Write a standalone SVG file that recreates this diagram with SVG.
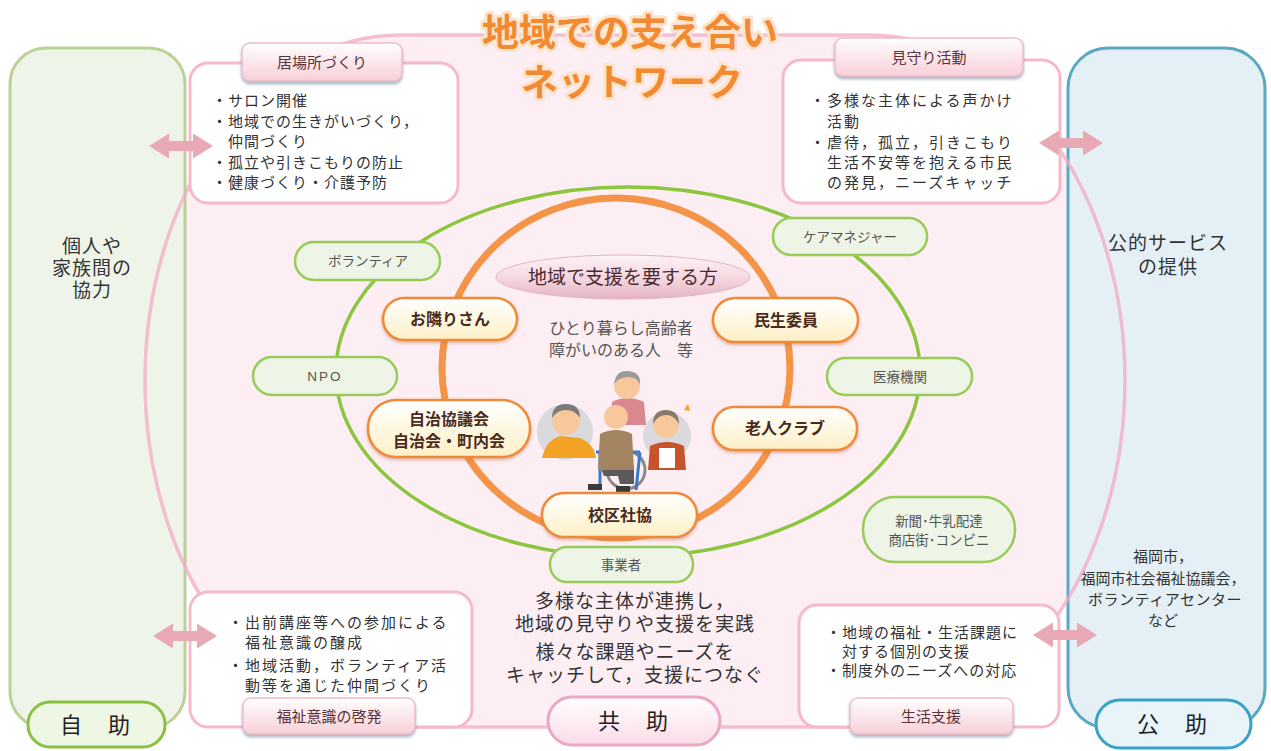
<svg xmlns="http://www.w3.org/2000/svg" width="1271" height="751" viewBox="0 0 1271 751">
  <defs>
    <style>
      text { font-family: "Liberation Sans", "Noto Sans CJK JP", sans-serif; }
      .body { font-size: 15px; fill: #333; letter-spacing: 1px; }
      .body2 { font-size: 15px; fill: #333; letter-spacing: 2px; }
      .panel-txt { font-size: 19px; fill: #333; text-anchor: middle; letter-spacing: 1px; }
      .mid { font-size: 19px; fill: #333; text-anchor: middle; letter-spacing: 1px; }
      .tab { fill: url(#tabGrad); stroke: #efbcc8; stroke-width: 1.5; filter: url(#shadow); }
      .tab-txt { font-size: 15px; fill: #5a3238; text-anchor: middle; }
      .box { fill: #fff; stroke: #f5b9ca; stroke-width: 3; }
      .opill { fill: url(#orangeGrad); stroke: #f08a3a; stroke-width: 2.5; filter: url(#shadow2); }
      .opill-txt { font-size: 16px; font-weight: bold; fill: #4a2a1a; text-anchor: middle; }
      .gpill { fill: #eef5e6; stroke: #98cb58; stroke-width: 2.5; }
      .gpill-txt { font-size: 13.5px; fill: #555; text-anchor: middle; }
      .arrow { fill: #e8a9b4; }
      .help-txt { font-size: 22px; fill: #222; text-anchor: middle; letter-spacing: 2px; }
    </style>
    <linearGradient id="tabGrad" x1="0" y1="0" x2="0" y2="1">
      <stop offset="0" stop-color="#ffffff"/>
      <stop offset="1" stop-color="#f8cfd9"/>
    </linearGradient>
    <linearGradient id="orangeGrad" x1="0" y1="0" x2="0" y2="1">
      <stop offset="0" stop-color="#ffffff"/>
      <stop offset="1" stop-color="#fdf0c6"/>
    </linearGradient>
    <linearGradient id="pinkPill" x1="0" y1="0" x2="0" y2="1">
      <stop offset="0" stop-color="#ffffff"/>
      <stop offset="1" stop-color="#fbdbe6"/>
    </linearGradient>
    <linearGradient id="lensGrad" x1="0" y1="0" x2="0" y2="1">
      <stop offset="0" stop-color="#fdf3f6"/>
      <stop offset="0.6" stop-color="#f3d3dc"/>
      <stop offset="1" stop-color="#e3b1c0"/>
    </linearGradient>
    <filter id="shadow" x="-10%" y="-20%" width="120%" height="160%">
      <feDropShadow dx="0" dy="2.5" stdDeviation="1.5" flood-color="#6d859c" flood-opacity="0.6"/>
    </filter>
    <filter id="shadow2" x="-10%" y="-20%" width="120%" height="160%">
      <feDropShadow dx="0" dy="2" stdDeviation="1.5" flood-color="#c0704a" flood-opacity="0.45"/>
    </filter>
    <!-- double-headed block arrow, 64 px long, centred vertically on y=0 -->
    <path id="dblArrow" d="M0,0 L20,-12.5 L20,-5 L44,-5 L44,-12.5 L64,0 L44,12.5 L44,5 L20,5 L20,12.5 Z"/>
  </defs>

  <rect width="1271" height="751" fill="#ffffff"/>

  <!-- pink community area -->
  <path id="commFill" d="M400,35 L870,35 A255 345 0 0 1 1125 380 A255 347 0 0 1 870 727 L400,727 A255 347 0 0 1 145 380 A255 345 0 0 1 400 35 Z" fill="#fdeef3"/>

  <!-- side panels -->
  <g id="panel-self">
    <rect x="10" y="48" width="175" height="680" rx="36" fill="#eef5e8" stroke="#b9d196" stroke-width="3"/>
    <text class="panel-txt" x="92" y="253">個人や<tspan x="92" dy="22">家族間の</tspan><tspan x="92" dy="22">協力</tspan></text>
  </g>
  <g id="panel-public">
    <rect x="1068" y="48" width="197" height="680" rx="40" fill="#e4f0f6" stroke="#5aa8c4" stroke-width="3"/>
    <text class="panel-txt" x="1168" y="250">公的サービス<tspan x="1168" dy="24">の提供</tspan></text>
    <text font-size="15" fill="#333" text-anchor="middle" x="1163" y="562">福岡市，<tspan x="1163" dy="22">福岡市社会福祉協議会，</tspan><tspan x="1165" dy="21" letter-spacing="0.5">ボランティアセンター</tspan><tspan x="1163" dy="21">など</tspan></text>
  </g>

  <!-- outline of the community area -->
  <path d="M400,35 L870,35 A255 345 0 0 1 1125 380 A255 347 0 0 1 870 727 L400,727 A255 347 0 0 1 145 380 A255 345 0 0 1 400 35 Z" fill="none" stroke="#f4a9c6" stroke-width="3.5" opacity="0.75"/>

  <!-- rings of the network -->
  <g id="connectors">
    <ellipse cx="628" cy="372" rx="292" ry="185" fill="none" stroke="#8cc63f" stroke-width="3.5"/>
    <ellipse cx="616" cy="368" rx="174" ry="170" fill="none" stroke="#f39448" stroke-width="7"/>
  </g>

  <!-- title -->
  <g id="title" font-weight="bold" font-size="37" fill="#f28a32" stroke="#fde4cf" stroke-width="6" stroke-linejoin="round" paint-order="stroke" text-anchor="middle">
    <text x="630" y="46">地域での支え合い<tspan x="632" dy="50">ネットワーク</tspan></text>
  </g>

  <!-- activity boxes -->
  <g id="box-ibasho">
    <rect class="box" x="190" y="63" width="268" height="140" rx="18"/>
    <rect class="tab" x="242" y="43" width="160" height="38" rx="8"/>
    <text class="tab-txt" x="322" y="68">居場所づくり</text>
    <text class="body" x="212" y="106">・サロン開催<tspan x="212" dy="21">・地域での生きがいづくり，</tspan><tspan x="228" dy="20">仲間づくり</tspan><tspan x="212" dy="21">・孤立や引きこもりの防止</tspan><tspan x="212" dy="20">・健康づくり・介護予防</tspan></text>
  </g>

  <g id="box-mimamori">
    <rect class="box" x="783" y="60" width="277" height="143" rx="18"/>
    <rect class="tab" x="835" y="38" width="188" height="38" rx="8"/>
    <text class="tab-txt" x="929" y="63">見守り活動</text>
    <text class="body2" x="810" y="106">・多様な主体による声かけ<tspan x="827" dy="21">活動</tspan><tspan x="810" dy="21">・虐待，孤立，引きこもり</tspan><tspan x="827" dy="20">生活不安等を抱える市民</tspan><tspan x="827" dy="20">の発見，ニーズキャッチ</tspan></text>
  </g>

  <g id="box-keihatsu">
    <rect class="box" x="190" y="592" width="282" height="135" rx="18"/>
    <text class="body2" x="228" y="628">・出前講座等への参加による<tspan x="245" dy="20">福祉意識の醸成</tspan><tspan x="228" dy="23">・地域活動，ボランティア活</tspan><tspan x="245" dy="20">動等を通じた仲間づくり</tspan></text>
    <rect class="tab" x="243" y="698" width="172" height="36" rx="8"/>
    <text class="tab-txt" x="329" y="722" font-size="16">福祉意識の啓発</text>
  </g>

  <g id="box-seikatsu">
    <rect class="box" x="799" y="605" width="260" height="122" rx="18"/>
    <text class="body" x="826" y="638">・地域の福祉・生活課題に<tspan x="842" dy="19">対する個別の支援</tspan><tspan x="826" dy="19">・制度外のニーズへの対応</tspan></text>
    <rect class="tab" x="850" y="698" width="163" height="36" rx="8"/>
    <text class="tab-txt" x="931" y="722" font-size="16">生活支援</text>
  </g>

  <!-- links between the area and the side panels -->
  <g id="arrows" class="arrow">
    <use href="#dblArrow" x="149" y="146"/>
    <use href="#dblArrow" x="1039" y="143"/>
    <use href="#dblArrow" x="153" y="636"/>
    <use href="#dblArrow" x="1033" y="635"/>
  </g>

  <!-- centre: people needing support -->
  <g id="target">
    <ellipse cx="623" cy="277" rx="127" ry="22" fill="url(#lensGrad)" stroke="#e4b5c3" stroke-width="1"/>
    <text x="623" y="284" font-size="19" fill="#4a2a30" text-anchor="middle">地域で支援を要する方</text>
    <text x="621" y="334" font-size="16" fill="#555" text-anchor="middle">ひとり暮らし高齢者<tspan x="621" dy="22">障がいのある人　等</tspan></text>
  </g>

  <!-- illustration of elderly residents -->
  <g id="people">
    <circle cx="565" cy="432" r="28" fill="#d9d9de"/>
    <circle cx="667" cy="436" r="24" fill="#d9d9de"/>
    <!-- woman standing at the back -->
    <path d="M610,425 L612,402 Q627,394 644,402 L646,425 Z" fill="#d98890"/>
    <circle cx="627" cy="386" r="13" fill="#f6c89c"/>
    <path d="M614,384 Q616,370 628,371 Q641,372 640,384 Q636,376 627,377 Q618,378 614,384 Z" fill="#9a9a9a"/>
    <!-- man in orange -->
    <path d="M542,458 Q546,440 560,436 L580,438 Q594,444 596,458 Z" fill="#f2a224"/>
    <circle cx="566" cy="421" r="14" fill="#f6c89c"/>
    <path d="M552,418 Q552,404 566,404 Q580,404 580,418 Q575,410 566,410 Q557,410 552,418 Z" fill="#7a7a7a"/>
    <!-- man in wheelchair -->
    <circle cx="626" cy="470" r="19" fill="none" stroke="#8a8a8a" stroke-width="3"/>
    <path d="M596,452 L640,452 M600,452 L600,488 M640,452 L636,490" stroke="#3a78c8" stroke-width="3" fill="none"/>
    <path d="M600,466 L634,466 L634,484 L620,484 L618,476 L604,476 Z" fill="#5a5a5a"/>
    <path d="M598,470 L600,434 Q616,426 632,434 L634,470 Z" fill="#a38461"/>
    <circle cx="616" cy="417" r="12" fill="#f6c89c"/>
    <rect x="588" y="484" width="14" height="6" fill="#3a3a3a"/>
    <rect x="616" y="486" width="14" height="6" fill="#3a3a3a"/>
    <!-- woman on the right -->
    <path d="M648,470 L650,446 Q667,438 684,446 L686,470 Z" fill="#c8532a"/>
    <rect x="659" y="448" width="16" height="20" fill="#ffffff"/>
    <circle cx="666" cy="425" r="13" fill="#f6c89c"/>
    <path d="M653,424 Q653,410 666,410 Q679,410 679,424 Q674,415 666,415 Q658,415 653,424 Z" fill="#8a7a6a"/>
    <path d="M684,410 l4,-6 l2,7 z" fill="#f2a224"/>
  </g>

  <!-- community members on the inner ring -->
  <g id="node-otonari">
    <rect class="opill" x="383" y="298" width="134" height="42" rx="21"/>
    <text class="opill-txt" x="450" y="325">お隣りさん</text>
  </g>
  <g id="node-jichi">
    <rect class="opill" x="368" y="400" width="162" height="57" rx="28"/>
    <text class="opill-txt" x="449" y="425">自治協議会<tspan x="449" dy="22">自治会・町内会</tspan></text>
  </g>
  <g id="node-kouku">
    <rect class="opill" x="542" y="493" width="155" height="44" rx="22"/>
    <text class="opill-txt" x="620" y="521">校区社協</text>
  </g>
  <g id="node-minsei">
    <rect class="opill" x="713" y="298" width="145" height="44" rx="22"/>
    <text class="opill-txt" x="786" y="326">民生委員</text>
  </g>
  <g id="node-roujin">
    <rect class="opill" x="713" y="407" width="144" height="43" rx="21"/>
    <text class="opill-txt" x="785" y="434">老人クラブ</text>
  </g>

  <!-- partners on the outer ring -->
  <g id="node-volunteer">
    <rect class="gpill" x="295" y="242" width="145" height="38" rx="19"/>
    <text class="gpill-txt" x="368" y="266">ボランティア</text>
  </g>
  <g id="node-npo">
    <rect class="gpill" x="253" y="357" width="144" height="38" rx="19"/>
    <text class="gpill-txt" x="325" y="381" letter-spacing="2">NPO</text>
  </g>
  <g id="node-caremanager">
    <rect class="gpill" x="773" y="218" width="154" height="37" rx="18"/>
    <text class="gpill-txt" x="850" y="242">ケアマネジャー</text>
  </g>
  <g id="node-iryo">
    <rect class="gpill" x="827" y="358" width="145" height="37" rx="18"/>
    <text class="gpill-txt" x="900" y="382">医療機関</text>
  </g>
  <g id="node-shimbun">
    <rect class="gpill" x="863" y="497" width="152" height="65" rx="32"/>
    <text class="gpill-txt" x="939" y="526" font-size="13">新聞･牛乳配達<tspan x="939" dy="19">商店街･コンビニ</tspan></text>
  </g>
  <g id="node-jigyosha">
    <rect class="gpill" x="550" y="547" width="143" height="35" rx="17"/>
    <text class="gpill-txt" x="621" y="570" font-size="13" fill="#8a4a3a">事業者</text>
  </g>

  <!-- mutual help message -->
  <g id="message">
    <text class="mid" x="635" y="608">多様な主体が連携し，<tspan x="635" dy="23">地域の見守りや支援を実践</tspan><tspan x="635" dy="28">様々な課題やニーズを</tspan><tspan x="635" dy="23">キャッチして，支援につなぐ</tspan></text>
  </g>

  <!-- three kinds of help -->
  <g id="label-jijo">
    <rect x="28" y="702" width="137" height="45" rx="22" fill="#eef6e4" stroke="#8cc040" stroke-width="3"/>
    <text class="help-txt" x="96" y="733">自　助</text>
  </g>
  <g id="label-kyojo">
    <rect x="548" y="697" width="172" height="48" rx="24" fill="url(#pinkPill)" stroke="#eca7c4" stroke-width="3"/>
    <text class="help-txt" x="634" y="729">共　助</text>
  </g>
  <g id="label-kojo">
    <rect x="1096" y="700" width="155" height="48" rx="24" fill="#e8f4fa" stroke="#3aa2c8" stroke-width="3"/>
    <text class="help-txt" x="1173" y="732">公　助</text>
  </g>
</svg>
